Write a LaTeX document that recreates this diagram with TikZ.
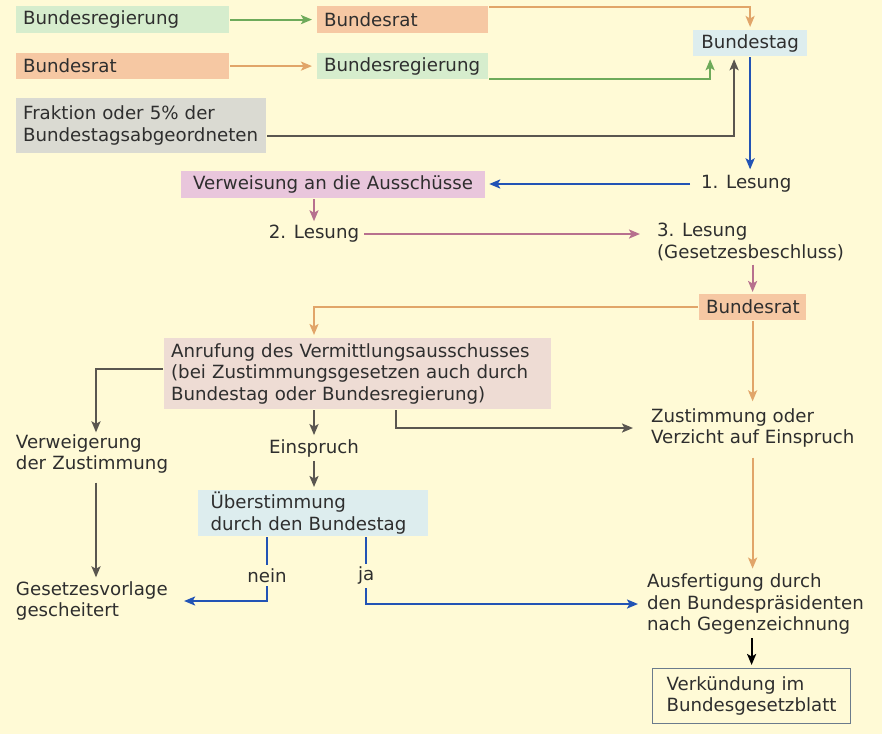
\documentclass[tikz,border=0pt]{standalone}
\usepackage{fontspec}
\setmainfont{DejaVu Sans}
\usetikzlibrary{arrows.meta}

\definecolor{bg}{HTML}{FFFAD6}
\definecolor{txt}{HTML}{2E2E2E}
\definecolor{greenfill}{HTML}{D6EDCD}
\definecolor{greenline}{HTML}{6EAA5A}
\definecolor{orangefill}{HTML}{F6C8A3}
\definecolor{orangeline}{HTML}{E1A569}
\definecolor{bluefill}{HTML}{DDEDEE}
\definecolor{blueline}{HTML}{2253B5}
\definecolor{greyfill}{HTML}{DADAD2}
\definecolor{greyline}{HTML}{5A5650}
\definecolor{pinkfill}{HTML}{E9C6DC}
\definecolor{pinkline}{HTML}{B7708E}
\definecolor{rosefill}{HTML}{EEDCD4}
\definecolor{frame}{HTML}{6B7B8C}

\begin{document}
\begin{tikzpicture}[x=1pt,y=-1pt,>={Stealth[length=11pt,width=9pt,inset=2.5pt]},
                    line width=2.2pt,
                    every node/.style={text=txt,font=\fontsize{18.2}{21.5}\selectfont},
                    main box/.style={anchor=north west,align=left,inner xsep=7pt,inner ysep=0pt},
                    main text/.style={align=left,inner sep=0pt},
                    green box/.style={main box,fill=greenfill},
                    orange box/.style={main box,fill=orangefill},
                    blue box/.style={main box,fill=bluefill},
                    grey box/.style={main box,fill=greyfill},
                    pink box/.style={main box,fill=pinkfill},
                    rose box/.style={main box,fill=rosefill},
                    green line/.style={draw=greenline,->},
                    orange line/.style={draw=orangeline,->},
                    blue line/.style={draw=blueline,->},
                    grey line/.style={draw=greyline,->},
                    pink line/.style={draw=pinkline,->}]
      \fill[bg] (0,0) rectangle (882,734);
      \useasboundingbox (0,0) rectangle (882,734);
      % Gesetzesinitiative
      \node[green box, text width=199pt, minimum height=27pt] (1) at (15,5) {Bundesregierung};
      \node[orange box, text width=157pt, minimum height=27pt] (2) at (316,5) {Bundesrat};
      \node[blue box, text width=100pt, minimum height=26pt, align=center] (3) at (692,29) {Bundestag};
      \node[orange box, text width=199pt, minimum height=26pt] (4) at (15,52) {Bundesrat};
      \node[green box, text width=157pt, minimum height=26pt] (5) at (316,52) {Bundesregierung};
      \node[grey box, text width=236pt, minimum height=55pt] (6) at (15,97) {Fraktion oder 5\% der\\Bundestagsabgeordneten};
      % Lesungen im Bundestag
      \node[main text, anchor=west] (7) at (700,184) {1. Lesung};
      \node[pink box, text width=290pt, minimum height=27pt, align=center] (8) at (180,170) {Verweisung an die Ausschüsse};
      \node[main text] (9) at (314,234) {2. Lesung};
      \node[main text, anchor=north west] (10) at (656,222) {3. Lesung\\(Gesetzesbeschluss)};
      \node[orange box, text width=93pt, minimum height=26pt, align=center] (11) at (698,293) {Bundesrat};
      % Vermittlungsverfahren
      \node[rose box, text width=373pt, minimum height=71pt] (12) at (163,337) {Anrufung des Vermittlungsausschusses\\(bei Zustimmungsgesetzen auch durch\\Bundestag oder Bundesregierung)};
      \node[main text, anchor=west] (13) at (650,428) {Zustimmung oder\\Verzicht auf Einspruch};
      \node[main text, text width=160pt] (14) at (96,454) {Verweigerung\\der Zustimmung};
      \node[main text] (15) at (314,448) {Einspruch};
      \node[blue box, text width=205pt, minimum height=46pt, inner xsep=12.5pt] (16) at (197,489) {Überstimmung\\durch den Bundestag};
      \node[main text, text width=160pt] (17) at (96,601) {Gesetzesvorlage\\gescheitert};
      \node[main text, anchor=west] (18) at (646,604) {Ausfertigung durch\\den Bundespräsidenten\\nach Gegenzeichnung};
      \node[main box, draw=frame, line width=1.2pt, text width=170pt, minimum height=55pt, inner xsep=14pt] (19) at (652,668) {Verkündung im\\Bundesgesetzblatt};
      % Verbindungen
      \path (1) edge[green line, shorten >=4pt] (2)
            (4) edge[orange line, shorten >=4pt] (5);
      \draw[orange line, shorten >=2pt] ([yshift=-2pt]2.north east) -| (3.north);
      \draw[green line, shorten >=2pt] ([yshift=1pt]5.south east) -| ([xshift=-40pt]3.south);
      \draw[grey line, shorten >=2pt] ([yshift=-10pt]6.east) -| ([xshift=-16pt]3.south);
      \draw[blue line, shorten >=5pt] (3.south) -- (3.south |- 7.north);
      \draw[blue line, shorten <=10pt, shorten >=3pt] (7.west) -- (7.west -| 8.east);
      \draw[pink line, shorten >=3pt] (8.south -| 9.north) -- (9.north);
      \draw[pink line, shorten <=4pt, shorten >=16pt] (9.east) -- (9.east -| 10.west);
      \draw[pink line, shorten <=3pt, shorten >=1pt] (10.south -| 11.north) -- (11.north);
      \draw[orange line, shorten >=2pt] (11.west) -| (12.north -| 9.north);
      \draw[orange line, shorten >=6pt] (11.south) -- (11.south |- 13.north);
      \draw[grey line, shorten >=1pt] ([yshift=5pt]12.west) -| (14.north);
      \draw[grey line, shorten >=3pt] (12.south -| 15.north) -- (15.north);
      \draw[grey line, shorten <=3pt, shorten >=2pt] (15.south) -- (15.south |- 16.north);
      \draw[grey line, shorten >=17pt] ([xshift=38pt]12.south) |- (13.west);
      \draw[grey line, shorten <=8pt, shorten >=3pt] (14.south) -- (17.north);
      \draw[blue line, shorten >=7pt] ([xshift=-46pt]16.south) |- node[pos=0.3, fill=bg, inner sep=3pt] {nein} (17.east);
      \draw[blue line, shorten >=8pt] ([xshift=53pt]16.south) |- node[pos=0.29, fill=bg, inner sep=3pt] {ja} (18.west);
      \draw[orange line, shorten <=9pt, shorten >=4pt] (13.south -| 11.south) -- (18.north -| 11.south);
      \draw[->, black, shorten <=3pt, shorten >=3pt] (18.south -| 19.north) -- (19.north);
\end{tikzpicture}
\end{document}
